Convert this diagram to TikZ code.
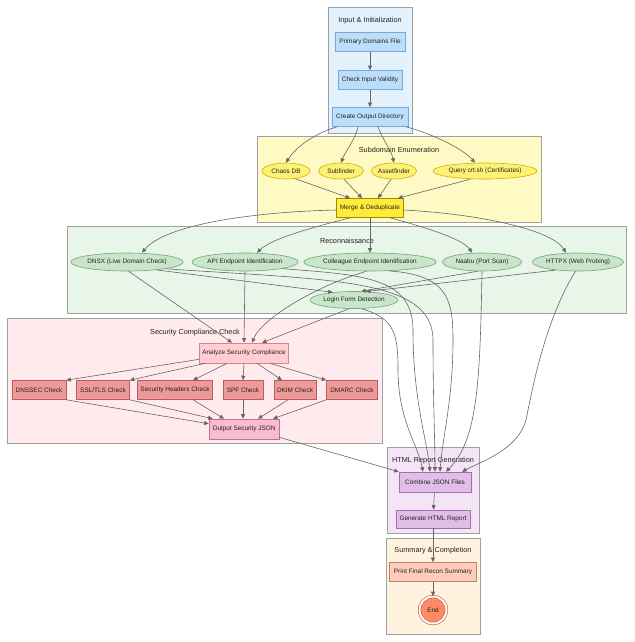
\documentclass[tikz,border=0pt]{standalone}
\usepackage{fontspec}
\setmainfont{Liberation Sans}
\usetikzlibrary{shapes.geometric,arrows.meta}
\definecolor{txt}{HTML}{222222}
\definecolor{edgec}{HTML}{666666}
\definecolor{clbord}{HTML}{A0A0A0}
\definecolor{inCl}{HTML}{E3F2FD}\definecolor{inF}{HTML}{BBDEFB}\definecolor{inD}{HTML}{7FA6CF}
\definecolor{subCl}{HTML}{FFF9C4}\definecolor{subF}{HTML}{FFF176}\definecolor{subD}{HTML}{C8B400}
\definecolor{merF}{HTML}{FFEB3B}\definecolor{merD}{HTML}{A08C00}
\definecolor{recCl}{HTML}{E8F5E9}\definecolor{recF}{HTML}{C8E6C9}\definecolor{recD}{HTML}{7AA07C}
\definecolor{secCl}{HTML}{FFEBEE}\definecolor{anaF}{HTML}{FFCDD2}\definecolor{anaD}{HTML}{D08888}
\definecolor{chkF}{HTML}{EF9A9A}\definecolor{chkD}{HTML}{B85C5C}
\definecolor{outF}{HTML}{F8BBD0}\definecolor{outD}{HTML}{C07090}
\definecolor{htmCl}{HTML}{F3E5F5}\definecolor{htmF}{HTML}{E1BEE7}\definecolor{htmD}{HTML}{A070A8}
\definecolor{sumCl}{HTML}{FFF3E0}\definecolor{sumF}{HTML}{FFCCBC}\definecolor{sumD}{HTML}{C08070}
\definecolor{endF}{HTML}{FF8A65}\definecolor{endD}{HTML}{C06040}
\tikzset{
  cluster/.style={draw=clbord, line width=0.6pt},
  ctitle/.style={font=\fontsize{7.3}{9}\selectfont, text=txt, inner sep=0pt},
  nbox/.style={rectangle, draw, line width=0.6pt, inner sep=0pt, text=txt,
    font=\fontsize{6.4}{8}\selectfont, minimum height=19pt},
  nell/.style={ellipse, draw, line width=0.6pt, inner sep=0pt, text=txt,
    font=\fontsize{6.4}{8}\selectfont, minimum height=18pt},
  bluebox/.style={nbox, fill=inF, draw=inD},
  yellell/.style={nell, fill=subF, draw=subD, minimum height=16pt},
  greenell/.style={nell, fill=recF, draw=recD},
  chkbox/.style={nbox, fill=chkF, draw=chkD},
  purpbox/.style={nbox, fill=htmF, draw=htmD},
  arr/.style={draw=edgec, line width=0.6pt, -{Triangle[length=4.5pt,width=4pt]}, fill=none},
}
\begin{document}
\begin{tikzpicture}[x=1pt,y=-1pt]
\useasboundingbox (0,0) rectangle (634,642);
% clusters
\path[cluster, fill=inCl] (328,7) rectangle (412,133);
\path[cluster, fill=subCl] (257,136) rectangle (541,222);
\path[cluster, fill=recCl] (67,226) rectangle (626,313);
\path[cluster, fill=secCl] (7,318) rectangle (382,443);
\path[cluster, fill=htmCl] (387,447) rectangle (479,533);
\path[cluster, fill=sumCl] (386,538) rectangle (480,634);
\node[ctitle] (t1) at (370,21) {Input \& Initialization};
\node[ctitle] (t2) at (399,150) {Subdomain Enumeration};
\node[ctitle] (t3) at (347,241) {Reconnaissance};
\node[ctitle] (t4) at (195,333) {Security Compliance Check};
\node[ctitle] (t5) at (433,461) {HTML Report Generation};
\node[ctitle] (t6) at (433,551) {Summary \& Completion};
% nodes
\node[bluebox, minimum width=70pt] (pdf) at (370,42) {Primary Domains File};
\node[bluebox, minimum width=64pt] (civ) at (370,80) {Check Input Validity};
\node[bluebox, minimum width=76pt] (cod) at (370,117) {Create Output Directory};
\node[yellell, minimum width=48pt] (chaos) at (286,171) {Chaos DB};
\node[yellell, minimum width=45pt] (subf) at (341,171) {Subfinder};
\node[yellell, minimum width=42pt] (asset) at (394,171) {Assetfinder};
\node[yellell, minimum width=104pt] (crt) at (485,171) {Query crt.sh (Certificates)};
\node[nbox, fill=merF, draw=merD, minimum width=67pt] (merge) at (370,208) {Merge \& Deduplicate};
\node[greenell, minimum width=110pt] (dnsx) at (127,262) {DNSX (Live Domain Check)};
\node[greenell, minimum width=105pt] (api) at (245,262) {API Endpoint Identification};
\node[greenell, minimum width=128pt] (coll) at (370,262) {Colleague Endpoint Identification};
\node[greenell, minimum width=79pt] (naabu) at (482,262) {Naabu (Port Scan)};
\node[greenell, minimum width=91pt] (httpx) at (578,262) {HTTPX (Web Probing)};
\node[greenell, minimum width=88pt, minimum height=17pt] (login) at (354,300) {Login Form Detection};
\node[nbox, fill=anaF, draw=anaD, minimum width=89pt, minimum height=20pt] (ana) at (244,353) {Analyze Security Compliance};
\node[chkbox, minimum width=54pt] (dnssec) at (39,390) {DNSSEC Check};
\node[chkbox, minimum width=53pt] (ssl) at (103,390) {SSL/TLS Check};
\node[chkbox, minimum width=75pt] (sh) at (175,390) {Security Headers Check};
\node[chkbox, minimum width=40pt] (spf) at (243,390) {SPF Check};
\node[chkbox, minimum width=42pt] (dkim) at (295,390) {DKIM Check};
\node[chkbox, minimum width=51pt] (dmarc) at (352,390) {DMARC Check};
\node[nbox, fill=outF, draw=outD, minimum width=70pt, minimum height=20pt] (out) at (244,429) {Output Security JSON};
\node[purpbox, minimum width=72pt, minimum height=20pt] (comb) at (435,482) {Combine JSON Files};
\node[purpbox, minimum width=74pt, minimum height=18pt] (gen) at (433,519) {Generate HTML Report};
\node[nbox, fill=sumF, draw=sumD, minimum width=87pt] (print) at (433,572) {Print Final Recon Summary};
\node[circle, draw=endD, fill=endF, line width=0.6pt, double=white, double distance=2pt,
  minimum size=27pt, inner sep=0pt, text=txt, font=\fontsize{6.4}{8}\selectfont] (endn) at (433,610) {End};
% edges: input
\draw[arr] (pdf) -- (civ);
\draw[arr] (civ) -- (cod);
\draw[arr] ([xshift=-33pt]cod.south) .. controls (310,135) and (294,150) .. (chaos.north);
\draw[arr] ([xshift=-12pt]cod.south) .. controls (355,140) and (346,150) .. (subf.north);
\draw[arr] ([xshift=8pt]cod.south) .. controls (383,140) and (391,150) .. (asset.north);
\draw[arr] ([xshift=36pt]cod.south) .. controls (430,133) and (462,148) .. ([xshift=-10pt]crt.north);
% subdomain -> merge
\draw[arr] (chaos.-40) -- ([xshift=-20pt]merge.north);
\draw[arr] (subf.-70) -- ([xshift=-8pt]merge.north);
\draw[arr] (asset.-110) -- ([xshift=8pt]merge.north);
\draw[arr] ([xshift=-15pt]crt.south) -- ([xshift=28pt]merge.north);
% merge -> recon
\draw[arr] ([yshift=-2pt]merge.west) .. controls (250,212) and (165,225) .. ([xshift=15pt]dnsx.north);
\draw[arr] ([xshift=-20pt]merge.south) .. controls (318,226) and (272,238) .. ([xshift=12pt]api.north);
\draw[arr] (merge.south) -- (coll.north);
\draw[arr] ([xshift=20pt]merge.south) .. controls (420,226) and (462,238) .. ([xshift=-10pt]naabu.north);
\draw[arr] ([yshift=-2pt]merge.east) .. controls (480,214) and (552,230) .. ([xshift=-12pt]httpx.north);
% recon -> login
\draw[arr] (dnsx.-15) -- (login.160);
\draw[arr] (naabu.-115) -- (login.50);
\draw[arr] (httpx.200) -- (login.35);
% recon -> analyze
\draw[arr] (dnsx.-80) -- ([xshift=-12pt]ana.north);
\draw[arr] (api.south) -- (ana.north);
\draw[arr] (coll.-110) .. controls (318,285) and (262,318) .. ([xshift=8pt]ana.north);
\draw[arr] (login.-120) -- ([xshift=18pt]ana.north);
% analyze -> checks
\draw[arr] ([yshift=4pt]ana.south west) -- (dnssec.north east);
\draw[arr] ([xshift=6pt]ana.south west) -- (ssl.north east);
\draw[arr] ([xshift=-17pt]ana.south) -- ([xshift=18pt]sh.north);
\draw[arr] (ana.south) -- (spf.north);
\draw[arr] ([xshift=13pt]ana.south) -- ([xshift=-13pt]dkim.north);
\draw[arr] ([xshift=26pt]ana.south) -- (dmarc.north west);
% checks -> output
\draw[arr] (dnssec.south east) -- ([yshift=-5pt]out.north west);
\draw[arr] (ssl.south east) -- ([xshift=4pt]out.north west);
\draw[arr] ([xshift=18pt]sh.south) -- ([xshift=-20pt]out.north);
\draw[arr] (spf.south) -- ([xshift=-1pt]out.north);
\draw[arr] ([xshift=-7pt]dkim.south) -- ([xshift=14pt]out.north);
\draw[arr] (dmarc.south west) -- ([xshift=29pt]out.north);
% to combine
\draw[arr] ([yshift=2pt]out.south east) -- (comb.north west);
\draw[arr] (login.-50) .. controls (395,318) and (398,335) .. (398,370) .. controls (398,420) and (418,445) .. ([xshift=-12pt]comb.north);
\draw[arr] (api.-10) .. controls (360,275) and (413,276) .. (413,330) .. controls (413,400) and (427,440) .. ([xshift=-5pt]comb.north);
\draw[arr] (dnsx.-10) .. controls (330,280) and (433,278) .. (433,340) .. controls (433,400) and (435,440) .. (comb.north);
\draw[arr] (coll.-25) .. controls (448,275) and (453,300) .. (453,340) .. controls (453,400) and (442,440) .. ([xshift=5pt]comb.north);
\draw[arr] (naabu.south) .. controls (480,380) and (478,440) .. ([xshift=11pt]comb.north);
\draw[arr] (httpx.-105) .. controls (545,320) and (532,390) .. (526,420) .. controls (518,450) and (480,462) .. ([xshift=27pt]comb.north);
% final
\draw[arr] (comb) -- (gen);
\draw[arr] (gen) -- (print);
\draw[arr] (print) -- (endn);
\end{tikzpicture}
\end{document}
